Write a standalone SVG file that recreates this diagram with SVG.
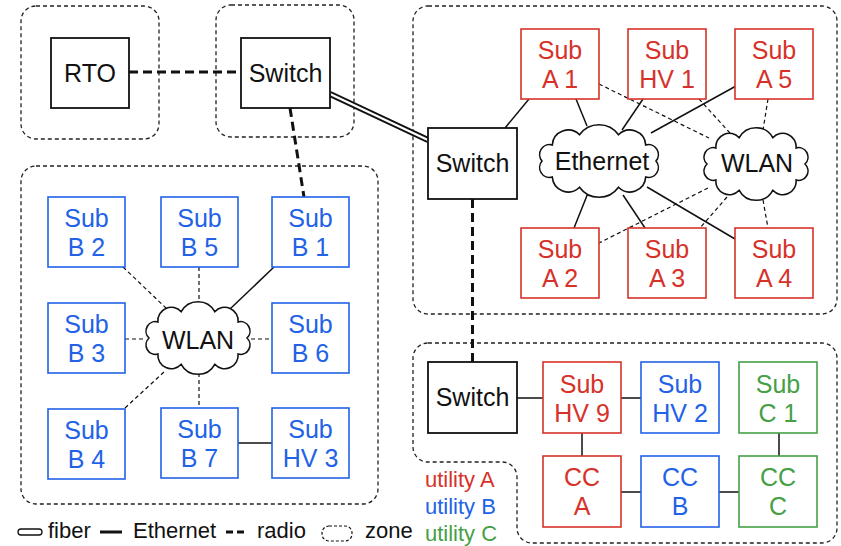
<svg xmlns="http://www.w3.org/2000/svg" width="841" height="546" viewBox="0 0 841 546">
<defs>
<style>
text{font-family:"Liberation Sans",Arial,Helvetica,sans-serif;font-size:25px;text-anchor:middle;fill:#111;}
.zone{fill:none;stroke:#222;stroke-width:1.3;stroke-dasharray:4 3;}
.box{fill:#fff;stroke:#111;stroke-width:1.8;}
.ra{fill:#fff;stroke:#d6322a;stroke-width:1.6;}
.rb{fill:#fff;stroke:#2262e6;stroke-width:1.6;}
.rc{fill:#fff;stroke:#45a045;stroke-width:1.6;}
text.ta{fill:#d6322a;} text.tb{fill:#2262e6;} text.tc{fill:#45a045;}
.cloud{fill:#fff;stroke:#111;stroke-width:1.6;}
.eth{stroke:#111;stroke-width:1.5;fill:none;}
.wl{stroke:#111;stroke-width:1.2;stroke-dasharray:4 3;fill:none;}
.radio{stroke:#111;stroke-width:3;stroke-dasharray:9 5;fill:none;}
text.leg{font-size:22px;text-anchor:start;}
</style>
<path id="cE" d="M 8 36 A 10 10 0 0 1 18.3 19.9 A 16 16 0 0 1 45.5 9.7 A 24 24 0 0 1 84.5 9.7 A 16 16 0 0 1 111.7 19.9 A 10 10 0 0 1 122 36 A 10 10 0 0 1 111.7 52.1 A 16 16 0 0 1 84.5 62.3 A 24 24 0 0 1 45.5 62.3 A 16 16 0 0 1 18.3 52.1 A 10 10 0 0 1 8 36 Z"/>
<path id="cW" d="M 7 36 A 9.5 9.5 0 0 1 15.9 19.9 A 13.4 13.4 0 0 1 39.2 9.7 A 19.1 19.1 0 0 1 72.8 9.7 A 13.4 13.4 0 0 1 96.1 19.9 A 9.5 9.5 0 0 1 105 36 A 9.5 9.5 0 0 1 96.1 52.1 A 13.4 13.4 0 0 1 72.8 62.3 A 19.1 19.1 0 0 1 39.2 62.3 A 13.4 13.4 0 0 1 15.9 52.1 A 9.5 9.5 0 0 1 7 36 Z"/>
</defs>
<rect width="841" height="546" fill="#fff"/>

<g id="zones">
<rect class="zone" x="21" y="6" width="138" height="133" rx="15"/>
<rect class="zone" x="216" y="5" width="138" height="132" rx="15"/>
<rect class="zone" x="413" y="6" width="424" height="308" rx="15"/>
<rect class="zone" x="21" y="166" width="357" height="338" rx="15"/>
<path class="zone" d="M 428 343 H 822 A 15 15 0 0 1 837 358 V 528 A 15 15 0 0 1 822 543 H 532 A 15 15 0 0 1 517 528 V 477 A 15 15 0 0 0 502 462 H 428 A 15 15 0 0 1 413 447 V 358 A 15 15 0 0 1 428 343 Z"/>
</g>

<g id="connectors">
<line class="radio" x1="129" y1="72" x2="241" y2="72"/>
<line class="radio" x1="290" y1="108" x2="304" y2="197"/>
<line class="radio" x1="472.5" y1="199" x2="472.5" y2="362"/>
<line x1="330" y1="94" x2="428" y2="140" stroke="#111" stroke-width="6"/>
<line x1="328" y1="93" x2="430" y2="141" stroke="#fff" stroke-width="2.4"/>
<line class="eth" x1="505" y1="128" x2="529" y2="99"/>
<line class="eth" x1="576" y1="99" x2="587" y2="126"/>
<line class="eth" x1="643" y1="99" x2="622" y2="130"/>
<line class="eth" x1="736" y1="86" x2="651" y2="133"/>
<line class="wl" x1="599" y1="84" x2="709" y2="138"/>
<line class="wl" x1="699" y1="99" x2="730" y2="133"/>
<line class="wl" x1="768" y1="99" x2="763" y2="130"/>
<line class="eth" x1="588" y1="193" x2="574" y2="228"/>
<line class="eth" x1="623" y1="195" x2="645" y2="228"/>
<line class="eth" x1="647" y1="187" x2="735" y2="239"/>
<line class="wl" x1="708" y1="188" x2="599" y2="243"/>
<line class="wl" x1="727" y1="197" x2="700" y2="228"/>
<line class="wl" x1="763" y1="200" x2="768" y2="228"/>
<line class="wl" x1="123" y1="267" x2="168" y2="310"/>
<line class="wl" x1="199" y1="267" x2="199" y2="305"/>
<line class="eth" x1="274" y1="267" x2="230" y2="309"/>
<line class="wl" x1="125" y1="339" x2="146" y2="339"/>
<line class="wl" x1="251" y1="339" x2="272" y2="339"/>
<line class="wl" x1="125" y1="408" x2="164" y2="372"/>
<line class="wl" x1="199" y1="373" x2="199" y2="408"/>
<line class="eth" x1="238" y1="443" x2="272" y2="443"/>
<line class="eth" x1="517" y1="398" x2="543" y2="398"/>
<line class="eth" x1="621" y1="398" x2="641" y2="398"/>
<line class="eth" x1="582" y1="433" x2="582" y2="456"/>
<line class="eth" x1="779" y1="433" x2="779" y2="456"/>
<line class="eth" x1="621" y1="492" x2="641" y2="492"/>
<line class="eth" x1="719" y1="492" x2="739" y2="492"/>
</g>

<g id="cloud-ethernet"><use href="#cE" class="cloud" transform="translate(534,125)"/><text x="602" y="170">Ethernet</text></g>
<g id="cloud-wlan-a"><use href="#cW" class="cloud" transform="translate(700,128)"/><text x="757" y="172">WLAN</text></g>
<g id="cloud-wlan-b"><use href="#cW" class="cloud" transform="translate(142,302)"/><text x="198" y="349">WLAN</text></g>

<g id="rto"><rect class="box" x="51" y="38" width="78" height="70"/><text x="90" y="82">RTO</text></g>
<g id="switch1"><rect class="box" x="241" y="38" width="89" height="70"/><text x="285.5" y="82">Switch</text></g>
<g id="switch2"><rect class="box" x="428" y="128" width="89" height="71"/><text x="472.5" y="172">Switch</text></g>
<g id="switch3"><rect class="box" x="428" y="362" width="89" height="71"/><text x="472.5" y="406">Switch</text></g>

<g id="subA1"><rect class="ra" x="521" y="29" width="78" height="70"/><text class="ta" x="560" y="59">Sub</text><text class="ta" x="560" y="88">A 1</text></g>
<g id="subHV1"><rect class="ra" x="628" y="29" width="78" height="70"/><text class="ta" x="667" y="59">Sub</text><text class="ta" x="667" y="88">HV 1</text></g>
<g id="subA5"><rect class="ra" x="735" y="29" width="78" height="70"/><text class="ta" x="774" y="59">Sub</text><text class="ta" x="774" y="88">A 5</text></g>
<g id="subA2"><rect class="ra" x="521" y="228" width="78" height="70"/><text class="ta" x="560" y="258">Sub</text><text class="ta" x="560" y="287">A 2</text></g>
<g id="subA3"><rect class="ra" x="628" y="228" width="78" height="70"/><text class="ta" x="667" y="258">Sub</text><text class="ta" x="667" y="287">A 3</text></g>
<g id="subA4"><rect class="ra" x="735" y="228" width="78" height="70"/><text class="ta" x="774" y="258">Sub</text><text class="ta" x="774" y="287">A 4</text></g>

<g id="subB2"><rect class="rb" x="48" y="197" width="77" height="70"/><text class="tb" x="86.5" y="227">Sub</text><text class="tb" x="86.5" y="256">B 2</text></g>
<g id="subB5"><rect class="rb" x="161" y="197" width="77" height="70"/><text class="tb" x="199.5" y="227">Sub</text><text class="tb" x="199.5" y="256">B 5</text></g>
<g id="subB1"><rect class="rb" x="272" y="197" width="77" height="70"/><text class="tb" x="310.5" y="227">Sub</text><text class="tb" x="310.5" y="256">B 1</text></g>
<g id="subB3"><rect class="rb" x="48" y="303" width="77" height="70"/><text class="tb" x="86.5" y="333">Sub</text><text class="tb" x="86.5" y="362">B 3</text></g>
<g id="subB6"><rect class="rb" x="272" y="303" width="77" height="70"/><text class="tb" x="310.5" y="333">Sub</text><text class="tb" x="310.5" y="362">B 6</text></g>
<g id="subB4"><rect class="rb" x="48" y="409" width="77" height="70"/><text class="tb" x="86.5" y="439">Sub</text><text class="tb" x="86.5" y="468">B 4</text></g>
<g id="subB7"><rect class="rb" x="161" y="408" width="77" height="70"/><text class="tb" x="199.5" y="438">Sub</text><text class="tb" x="199.5" y="467">B 7</text></g>
<g id="subHV3"><rect class="rb" x="272" y="408" width="77" height="70"/><text class="tb" x="310.5" y="438">Sub</text><text class="tb" x="310.5" y="467">HV 3</text></g>

<g id="subHV9"><rect class="ra" x="543" y="362" width="78" height="71"/><text class="ta" x="582" y="392.5">Sub</text><text class="ta" x="582" y="421.5">HV 9</text></g>
<g id="subHV2"><rect class="rb" x="641" y="362" width="78" height="71"/><text class="tb" x="680" y="392.5">Sub</text><text class="tb" x="680" y="421.5">HV 2</text></g>
<g id="subC1"><rect class="rc" x="739" y="362" width="78" height="71"/><text class="tc" x="778" y="392.5">Sub</text><text class="tc" x="778" y="421.5">C 1</text></g>
<g id="ccA"><rect class="ra" x="543" y="456" width="78" height="71"/><text class="ta" x="582" y="486">CC</text><text class="ta" x="582" y="515">A</text></g>
<g id="ccB"><rect class="rb" x="641" y="456" width="78" height="71"/><text class="tb" x="680" y="486">CC</text><text class="tb" x="680" y="515">B</text></g>
<g id="ccC"><rect class="rc" x="739" y="456" width="78" height="71"/><text class="tc" x="778" y="486">CC</text><text class="tc" x="778" y="515">C</text></g>

<g id="legend">
<rect x="18" y="529" width="24" height="6" rx="3" fill="#fff" stroke="#111" stroke-width="1.3"/>
<text class="leg" x="48" y="538">fiber</text>
<line x1="100" y1="532" x2="122" y2="532" stroke="#111" stroke-width="3"/>
<text class="leg" x="133" y="538">Ethernet</text>
<line x1="226" y1="532" x2="248" y2="532" stroke="#111" stroke-width="3" stroke-dasharray="7 4"/>
<text class="leg" x="257" y="538">radio</text>
<rect x="322" y="526" width="30" height="15" rx="7" fill="none" stroke="#111" stroke-width="1.2" stroke-dasharray="3 2"/>
<text class="leg" x="365" y="538">zone</text>
<text class="leg ta" x="425" y="487">utility A</text>
<text class="leg tb" x="425" y="514">utility B</text>
<text class="leg tc" x="425" y="540.5">utility C</text>
</g>
</svg>
